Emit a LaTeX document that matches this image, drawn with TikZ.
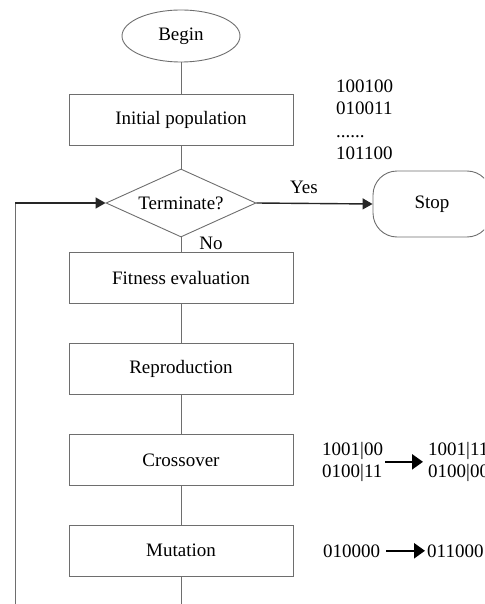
\documentclass[tikz,border=0pt]{standalone}
\usepackage{fontspec}
\setmainfont{Liberation Serif}
\usetikzlibrary{shapes.geometric,arrows.meta}
\definecolor{edge}{HTML}{6E6E6E}
\tikzset{
  lbl/.style={font=\fontsize{19}{22}\selectfont, inner sep=0pt},
  stepbox/.style={draw=edge, line width=0.9pt, minimum width=224pt, minimum height=51pt, inner sep=0pt, lbl},
  link/.style={draw=edge, line width=0.9pt},
  flow/.style={draw=black!85, line width=1.4pt, -{Triangle[length=10pt,width=11pt]}},
  bigarrow/.style={draw=black, line width=2.4pt, -{Triangle[length=11pt,width=15pt]}},
  bits/.style={lbl, align=left}
}
\begin{document}
\begin{tikzpicture}[x=1pt,y=-1pt]
\useasboundingbox (0,0) rectangle (484,604);
\clip (0,0) rectangle (484,604);

% main column
\node[ellipse, draw=edge, line width=0.9pt, minimum width=118pt, minimum height=52pt, inner sep=0pt, lbl] (begin) at (181,36) {Begin};
\node[stepbox] (init) at (181,120) {Initial population};
\node[diamond, draw=edge, line width=0.9pt, aspect=2.2, minimum width=150pt, minimum height=68pt, inner sep=0pt, lbl] (term) at (181,203) {Terminate?};
\node[stepbox] (fit) at (181,278) {Fitness evaluation};
\node[stepbox] (rep) at (181,368.5) {Reproduction};
\node[stepbox] (cross) at (181,460) {Crossover};
\node[stepbox] (mut) at (181,550.5) {Mutation};
\node[draw=edge, line width=0.9pt, rounded corners=24pt, minimum width=118pt, minimum height=66pt, inner sep=0pt, lbl] (stop) at (432,204) {Stop};

\coordinate (tail) at (181,610);
\coordinate (loopbottom) at (15,610);
\coordinate (loopcorner) at (15,203);

\draw[link] (begin) -- (init);
\draw[link] (init) -- (term);
\draw[link] (term) -- (fit);
\draw[link] (fit) -- (rep);
\draw[link] (rep) -- (cross);
\draw[link] (cross) -- (mut);
\draw[link] (mut) -- (tail);

% loop back to the test
\draw[link] (loopbottom) -- (loopcorner);
\draw[flow] (loopcorner) -- (term.west);
\draw[flow] (term.east) -- (stop.west);

\node[lbl] (yes) at (304,187) {Yes};
\node[lbl] (no) at (211,243) {No};

% population strings
\node[lbl, anchor=base west] (p1) at (336,93) {100100};
\node[lbl, anchor=base west] (p2) at (336,115) {010011};
\node[lbl, anchor=base west] (p3) at (336,137.5) {......};
\node[lbl, anchor=base west] (p4) at (336,160) {101100};

% crossover example
\node[bits, anchor=north west] (cl) at (322,442) {1001|00\\0100|11};
\node[bits, anchor=north west] (cr) at (428,442) {1001|11\\0100|00};
\draw[bigarrow, shorten <=2pt, shorten >=5pt] (cl.east) -- (cl.east -| cr.west);

% mutation example
\node[lbl, anchor=base west] (ml) at (323,557) {010000};
\node[lbl, anchor=base west] (mr) at (427,557) {011000};
\draw[bigarrow, shorten <=6pt, shorten >=2pt] (ml.east) -- (ml.east -| mr.west);
\end{tikzpicture}
\end{document}
